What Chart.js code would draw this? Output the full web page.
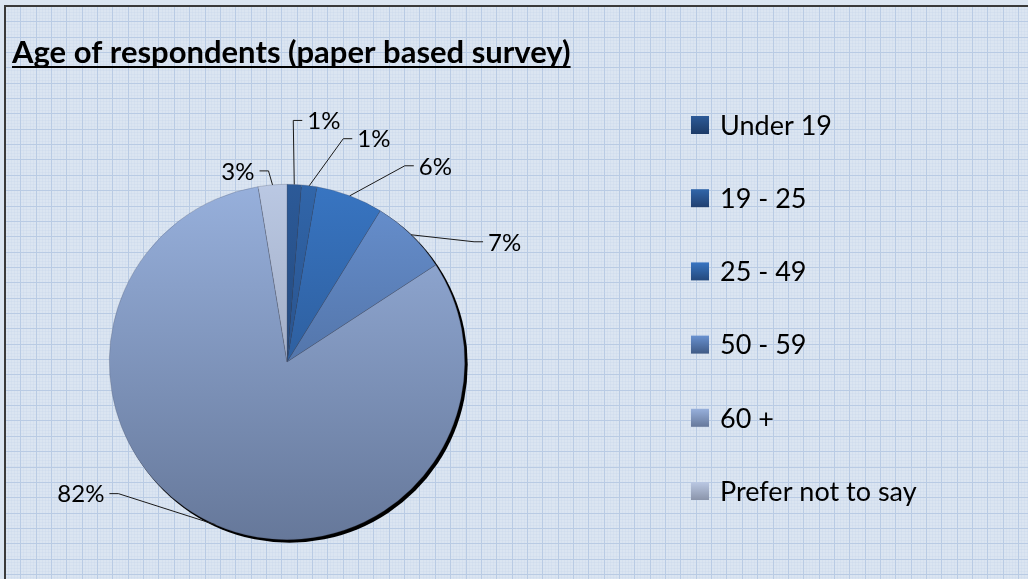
<!DOCTYPE html>
<html lang="en">
<head>
    <meta charset="UTF-8">
    <title>Age of respondents (paper based survey)</title>
    <script src="https://cdn.jsdelivr.net/npm/chart.js"></script>
    <style>
        body {
            margin: 0;
            padding: 0;
            background: #dbe5f1;
        }
        .chart-box {
            position: relative;
            width: 1028px;
            height: 579px;
        }
    </style>
</head>
<body>
    <div class="chart-box">
        <canvas id="pieChart" width="1028" height="579"></canvas>
    </div>

    <script>
        // data
        const chartTitle = 'Age of respondents (paper based survey)';
        const ageGroups = ['Under 19', '19 - 25', '25 - 49', '50 - 59', '60 +', 'Prefer not to say'];
        const sharePercent = [1.3, 1.4, 6.1, 7.0, 81.6, 2.6];

        // slice colours, top and bottom of the gradient
        const topColors = ['#2c5a98', '#3166aa', '#3875c2', '#6891d0', '#97b0dc', '#bac8e3'];
        const bottomColors = ['#1c3a66', '#203f70', '#24497c', '#3f5a85', '#66789a', '#8a94aa'];

        // where each leader line bends, relative to the slice edge (dx, dy, side)
        const leaderBends = [
            [-1, -64, 1],
            [34, -47, 1],
            [55, -30, 1],
            [63, 7, 1],
            [-97, -31, -1],
            [-4, -14, -1]
        ];

        const labelFont = '24px Lato';
        const legendFont = '27px Lato';

        function sliceGradient(context) {
            const chart = context.chart;
            const area = chart.chartArea;
            const i = context.dataIndex;
            if (!area) return topColors[i];
            const g = chart.ctx.createLinearGradient(0, area.top, 0, area.bottom);
            g.addColorStop(0, topColors[i]);
            g.addColorStop(1, bottomColors[i]);
            return g;
        }

        // graph paper background, frame and title
        const paperPlugin = {
            id: 'paper',
            beforeDraw(chart) {
                const ctx = chart.ctx;
                const w = chart.width, h = chart.height;
                ctx.save();
                ctx.fillStyle = '#dbe5f1';
                ctx.fillRect(0, 0, w, h);
                const step = 15.35;
                // fine lines
                ctx.strokeStyle = 'rgba(190, 208, 232, 0.22)';
                ctx.lineWidth = 1;
                for (let x = 5; x < w; x += step / 5) {
                    ctx.beginPath(); ctx.moveTo(Math.round(x) + 0.5, 6); ctx.lineTo(Math.round(x) + 0.5, h); ctx.stroke();
                }
                for (let y = 6; y < h; y += step / 5) {
                    ctx.beginPath(); ctx.moveTo(5, Math.round(y) + 0.5); ctx.lineTo(w, Math.round(y) + 0.5); ctx.stroke();
                }
                // main lines
                ctx.strokeStyle = '#b9cbe4';
                for (let x = 5; x < w; x += step) {
                    ctx.beginPath(); ctx.moveTo(Math.round(x) + 0.5, 6); ctx.lineTo(Math.round(x) + 0.5, h); ctx.stroke();
                }
                for (let y = 6; y < h; y += step) {
                    ctx.beginPath(); ctx.moveTo(5, Math.round(y) + 0.5); ctx.lineTo(w, Math.round(y) + 0.5); ctx.stroke();
                }
                // frame
                ctx.strokeStyle = '#3a3a3a';
                ctx.lineWidth = 2;
                ctx.beginPath();
                ctx.moveTo(5, h);
                ctx.lineTo(5, 6);
                ctx.lineTo(w, 6);
                ctx.stroke();
                // title
                ctx.fillStyle = '#000';
                ctx.font = 'bold 31px Lato';
                ctx.textBaseline = 'alphabetic';
                ctx.fillText(chartTitle, 12, 63);
                const tw = ctx.measureText(chartTitle).width;
                ctx.fillRect(12, 66, tw, 2);
                ctx.restore();
            },
            beforeDatasetsDraw(chart) {
                // dark shadow behind the pie
                const arc = chart.getDatasetMeta(0).data[0];
                if (!arc) return;
                const ctx = chart.ctx;
                ctx.save();
                ctx.fillStyle = '#000';
                ctx.beginPath();
                ctx.arc(arc.x + 2.5, arc.y + 2.5, arc.outerRadius + 0.5, 0, Math.PI * 2);
                ctx.fill();
                ctx.restore();
            }
        };

        // percentage labels with leader lines, and the legend
        const labelPlugin = {
            id: 'sliceLabels',
            afterDatasetsDraw(chart) {
                const ctx = chart.ctx;
                const meta = chart.getDatasetMeta(0);
                ctx.save();
                ctx.font = labelFont;
                ctx.textBaseline = 'middle';
                ctx.fillStyle = '#000';
                ctx.strokeStyle = '#1a1a1a';
                ctx.lineWidth = 1;
                meta.data.forEach((arc, i) => {
                    const mid = (arc.startAngle + arc.endAngle) / 2;
                    const ax = arc.x + Math.cos(mid) * arc.outerRadius;
                    const ay = arc.y + Math.sin(mid) * arc.outerRadius;
                    const [dx, dy, side] = leaderBends[i];
                    const bx = ax + dx, by = ay + dy;
                    const ex = bx + side * 9;
                    ctx.beginPath();
                    ctx.moveTo(ax, ay);
                    ctx.lineTo(bx, by);
                    ctx.lineTo(ex, by);
                    ctx.stroke();
                    ctx.textAlign = side > 0 ? 'left' : 'right';
                    ctx.fillText(Math.round(sharePercent[i]) + '%', ex + side * 5, by + 1);
                });

                // legend
                const lx = 691, ly0 = 125, lstep = 73.2, box = 18;
                ctx.font = legendFont;
                ctx.textAlign = 'left';
                ageGroups.forEach((name, i) => {
                    const cy = ly0 + i * lstep;
                    const g = ctx.createLinearGradient(0, cy - box / 2, 0, cy + box / 2);
                    g.addColorStop(0, topColors[i]);
                    g.addColorStop(1, bottomColors[i]);
                    ctx.fillStyle = g;
                    ctx.fillRect(lx, cy - box / 2, box, box);
                    ctx.fillStyle = '#000';
                    ctx.fillText(name, 720, cy + 1);
                });
                ctx.restore();
            }
        };

        function createPieChart() {
            const ctx = document.getElementById('pieChart').getContext('2d');
            new Chart(ctx, {
                type: 'pie',
                data: {
                    labels: ageGroups,
                    datasets: [{
                        data: sharePercent,
                        backgroundColor: sliceGradient,
                        borderWidth: 0.6,
                        borderColor: 'rgba(70, 80, 100, 0.45)'
                    }]
                },
                options: {
                    responsive: false,
                    animation: false,
                    layout: {
                        padding: { left: 109, top: 184, right: 563, bottom: 39 }
                    },
                    plugins: {
                        legend: { display: false },
                        title: { display: false },
                        tooltip: { enabled: false }
                    }
                },
                plugins: [paperPlugin, labelPlugin]
            });
        }

        document.addEventListener('DOMContentLoaded', createPieChart);
    </script>
</body>
</html>
